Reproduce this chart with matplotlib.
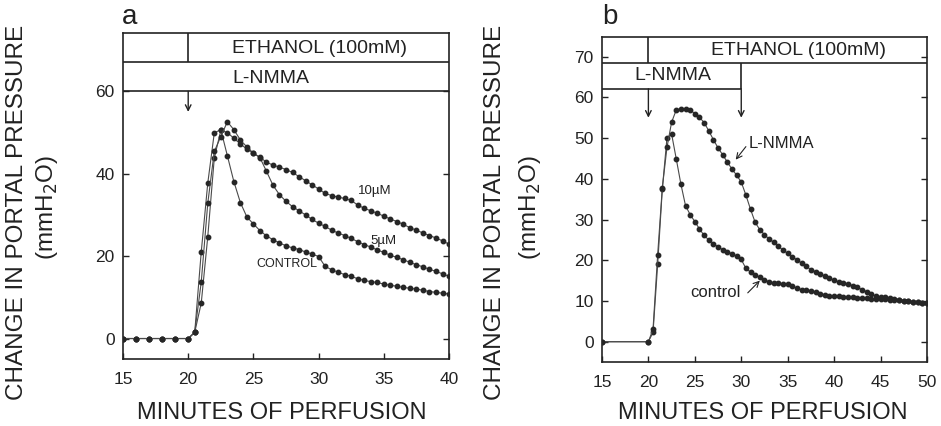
import matplotlib.pyplot as plt
from matplotlib.ticker import MultipleLocator

plt.rcParams.update(
    {
        "font.family": ["Liberation Sans", "DejaVu Sans"],
        "axes.linewidth": 1.2,
        "axes.edgecolor": "#222222",
        "text.color": "#222222",
        "xtick.color": "#222222",
        "ytick.color": "#222222",
    }
)

# ---- panel a: ethanol with/without L-NMMA (minutes, mmH2O) ----
TIME_A = [15, 16, 17, 18, 19, 20,
          20.5, 21, 21.5, 22, 22.5, 23, 23.5, 24, 24.5, 25,
          25.5, 26, 26.5, 27, 27.5, 28, 28.5, 29, 29.5, 30,
          30.5, 31, 31.5, 32, 32.5, 33, 33.5, 34, 34.5, 35,
          35.5, 36, 36.5, 37, 37.5, 38, 38.5, 39, 39.5, 40]
CONTROL_A = [0, 0, 0, 0, 0, 0,
             1.5, 21.0, 37.7, 49.9, 50.7, 44.4, 38.1, 33.0, 29.5, 27.8,
             26.2, 24.9, 24.0, 23.2, 22.5, 22.0, 21.6, 21.0, 20.5, 19.9,
             17.5, 16.7, 16.1, 15.5, 15.1, 14.5, 14.1, 13.8, 13.6, 13.2,
             12.9, 12.7, 12.4, 12.2, 12.0, 11.7, 11.4, 11.2, 11.0, 10.8]
NMMA_5_A = [0, 0, 0, 0, 0, 0,
            1.5, 8.6, 24.7, 43.8, 50.5, 50.0, 48.6, 47.2, 46.0, 45.0,
            43.9, 40.6, 37.2, 34.9, 33.3, 32.0, 31.0, 30.0, 28.9, 28.0,
            27.2, 26.3, 25.6, 25.0, 24.3, 23.5, 22.8, 22.2, 21.5, 20.9,
            20.2, 19.7, 19.1, 18.5, 17.9, 17.4, 16.8, 16.3, 15.7, 15.1]
NMMA_10_A = [0, 0, 0, 0, 0, 0,
             1.5, 13.7, 32.8, 45.4, 49.0, 52.6, 50.7, 48.2, 46.5, 45.0,
             44.0, 42.8, 42.1, 41.6, 41.0, 40.3, 39.3, 38.3, 37.3, 36.3,
             35.2, 34.7, 34.3, 34.0, 33.5, 32.4, 31.6, 31.0, 30.4, 29.7,
             29.0, 28.4, 27.7, 26.9, 26.3, 25.6, 25.0, 24.4, 23.7, 22.9]

# ---- panel b: L-NMMA given 15-30 min ----
TIME_B = [15, 20,
          20.5, 21, 21.5, 22, 22.5, 23, 23.5, 24, 24.5, 25,
          25.5, 26, 26.5, 27, 27.5, 28, 28.5, 29, 29.5, 30,
          30.5, 31, 31.5, 32, 32.5, 33, 33.5, 34, 34.5, 35,
          35.5, 36, 36.5, 37, 37.5, 38, 38.5, 39, 39.5, 40,
          40.5, 41, 41.5, 42, 42.5, 43, 43.5, 44, 44.5, 45,
          45.5, 46, 46.5, 47, 47.5, 48, 48.5, 49, 49.5, 50]
CONTROL_B = [0, 0,
             2.3, 19.0, 37.5, 50.0, 51.0, 44.9, 38.7, 33.4, 31.2, 29.5,
             27.7, 26.1, 25.0, 24.1, 23.3, 22.6, 22.1, 21.6, 21.0, 20.2,
             18.0, 17.1, 16.4, 15.8, 15.2, 14.7, 14.4, 14.3, 14.2, 14.1,
             13.6, 13.1, 12.8, 12.6, 12.4, 12.1, 11.8, 11.5, 11.3, 11.3,
             11.2, 11.1, 11.0, 10.9, 10.8, 10.7, 10.7, 10.6, 10.5, 10.5,
             10.4, 10.3, 10.3, 10.2, 10.1, 10.0, 9.8, 9.7, 9.5, 9.4]
NMMA_B = [0, 0,
          3.1, 21.4, 37.8, 47.7, 53.9, 56.9, 57.2, 57.2, 56.9, 56.0,
          55.1, 53.8, 51.8, 49.6, 47.6, 45.9, 44.1, 42.4, 40.9, 39.2,
          36.0, 32.5, 29.3, 27.5, 26.3, 25.2, 24.4, 23.4, 22.5, 21.7,
          20.9, 20.1, 19.3, 18.5, 17.7, 17.2, 16.7, 16.1, 15.6, 15.1,
          14.7, 14.3, 14.1, 13.8, 13.4, 12.8, 12.3, 11.7, 11.2, 11.0,
          10.9, 10.7, 10.5, 10.3, 10.1, 10.0, 9.8, 9.7, 9.5, 9.4]

LINE_COLOR = "#4a4a4a"
DOT_COLOR = "#262626"
INK = "#222222"
TICK_SIZE = 12.5
XLABEL_SIZE = 17
YLABEL_SIZE = 17.5
BAND_SIZE = 14


def plot_series(ax, x, y):
    ax.plot(x, y, color=LINE_COLOR, lw=0.8, marker="o", markersize=3.2,
            markerfacecolor=DOT_COLOR, markeredgecolor=DOT_COLOR, zorder=3)


def style_axis(ax, xmax, ytop, yticks):
    ax.set_xlim(15, xmax)
    ax.set_ylim(-5, ytop)
    ax.xaxis.set_major_locator(MultipleLocator(5))
    ax.set_yticks(yticks)
    ax.tick_params(direction="in", length=4, width=1.0, labelsize=TICK_SIZE,
                   right=True, top=False)
    ax.tick_params(axis="x", pad=9)
    ax.tick_params(axis="y", pad=6)


def arrow(ax, start, end, lw=1.0):
    ax.annotate("", xy=end, xytext=start,
                arrowprops=dict(arrowstyle="->", lw=lw, color=INK,
                                shrinkA=0, shrinkB=0))


fig = plt.figure(figsize=(9.41, 4.26), dpi=100)
ax_a = fig.add_axes([0.1307, 0.157, 0.3465, 0.765])
ax_b = fig.add_axes([0.6397, 0.150, 0.3454, 0.763])

# panel a
for series in (CONTROL_A, NMMA_5_A, NMMA_10_A):
    plot_series(ax_a, TIME_A, series)
style_axis(ax_a, 40, 74.1, [0, 20, 40, 60])
band_kw = dict(color=INK, lw=1.2)
ax_a.axhline(60, **band_kw)
ax_a.axhline(67, **band_kw)
ax_a.vlines(20, 67, 74.1, **band_kw)
ax_a.text(30.1, 70.3, "ETHANOL (100mM)", ha="center", va="center", fontsize=BAND_SIZE)
ax_a.text(23.4, 63.2, "L-NMMA", ha="left", va="center", fontsize=BAND_SIZE)
arrow(ax_a, (20, 60), (20, 55))
ax_a.text(34.3, 35.9, "10\u00b5M", ha="center", va="center", fontsize=9.5)
ax_a.text(35.0, 23.6, "5\u00b5M", ha="center", va="center", fontsize=9.5)
ax_a.text(27.6, 18.2, "CONTROL", ha="center", va="center", fontsize=9)

# panel b
plot_series(ax_b, TIME_B, CONTROL_B)
plot_series(ax_b, TIME_B, NMMA_B)
style_axis(ax_b, 50, 74.8, list(range(0, 71, 10)))
ax_b.axhline(68.4, **band_kw)
ax_b.hlines(62.1, 15, 30, **band_kw)
ax_b.vlines(20, 68.4, 74.8, **band_kw)
ax_b.vlines(30, 62.1, 68.4, **band_kw)
ax_b.text(36.2, 71.6, "ETHANOL (100mM)", ha="center", va="center", fontsize=BAND_SIZE)
ax_b.text(22.6, 65.4, "L-NMMA", ha="center", va="center", fontsize=BAND_SIZE)
arrow(ax_b, (20, 62.1), (20, 55))
arrow(ax_b, (30, 62.1), (30, 55))
ax_b.text(30.8, 48.7, "L-NMMA", ha="left", va="center", fontsize=12)
arrow(ax_b, (30.5, 47.9), (29.4, 44.7), lw=0.8)
ax_b.text(24.5, 12.0, "control", ha="left", va="center", fontsize=12)
arrow(ax_b, (30.7, 12.0), (32.0, 15.0), lw=0.8)

# axis labels and panel letters
for x_lab, x_yl1, x_yl2, x_letter, letter in (
    (282, 17, 47, 122, "a"),
    (763, 495, 530, 602, "b"),
):
    fig.text(x_lab / 941, 1 - 413 / 426, "MINUTES OF PERFUSION",
             ha="center", va="center", fontsize=XLABEL_SIZE)
    fig.text(x_yl1 / 941, 0.502, "CHANGE IN PORTAL PRESSURE",
             rotation=90, ha="center", va="center", fontsize=YLABEL_SIZE)
    fig.text(x_yl2 / 941, 0.512, "(mmH$_2$O)",
             rotation=90, ha="center", va="center", fontsize=YLABEL_SIZE)
    fig.text(x_letter / 941, 1 - 24 / 426, letter,
             ha="left", va="baseline", fontsize=20)

fig.savefig("out.png", dpi=100, facecolor="white")
